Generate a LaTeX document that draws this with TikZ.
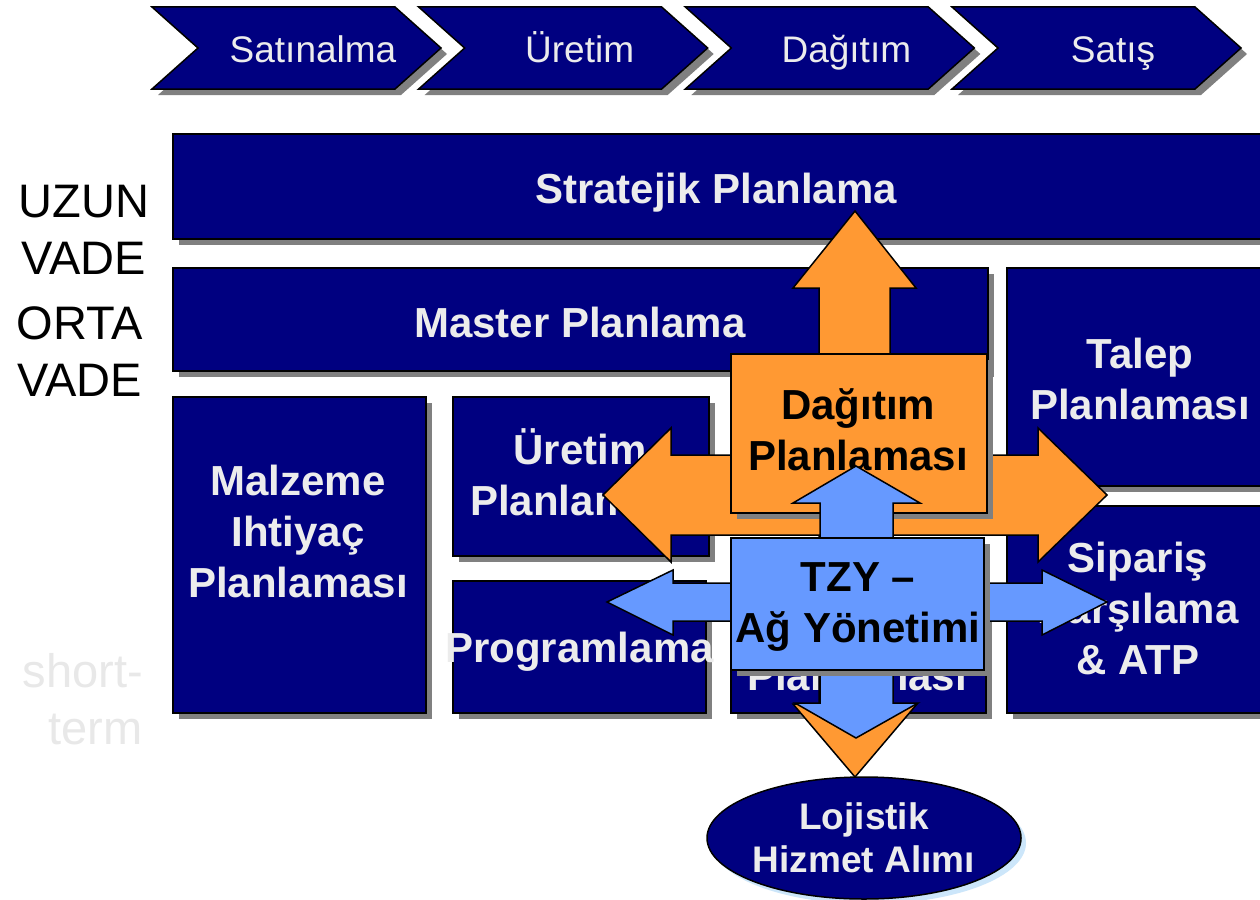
\documentclass[tikz,border=0pt]{standalone}
\usepackage{fontspec}
\setmainfont{Liberation Sans}
\usetikzlibrary{shapes.geometric}
\usetikzlibrary{shadows}
\definecolor{navy}{RGB}{0,0,128}
\definecolor{orng}{RGB}{255,153,51}
\definecolor{lblue}{RGB}{102,153,255}
\definecolor{txtgray}{RGB}{236,236,236}
\definecolor{shadowgray}{RGB}{128,128,128}
\definecolor{faintgray}{RGB}{232,232,232}
\definecolor{iceblue}{RGB}{204,230,250}

\tikzset{
  boxshadow/.style={drop shadow={shadow xshift=6pt, shadow yshift=-6pt, fill=shadowgray, opacity=1}},
  planbox/.style={draw=black, line width=1.5pt, fill=navy, inner sep=0pt, anchor=north west, boxshadow},
  chevron/.style={draw=black, line width=1.5pt, fill=navy, boxshadow},
  chevtext/.style={text=txtgray, font=\fontsize{37}{44}\selectfont, anchor=base, inner sep=0pt},
  boxtext/.style={text=txtgray, font=\bfseries\fontsize{42}{51}\selectfont, align=center, inner sep=0pt},
  darktext/.style={text=black, font=\bfseries\fontsize{42}{51}\selectfont, align=center, inner sep=0pt},
  vadetext/.style={text=black, font=\fontsize{47}{57}\selectfont, align=center, inner sep=0pt},
  blockarrow/.style={draw=black, line width=1.5pt, line join=miter}
}

\begin{document}
\begin{tikzpicture}[x=1pt, y=-1pt]
  \useasboundingbox (0,0) rectangle (1260,899);
  \clip (0,0) rectangle (1260,899);
  \fill[white] (0,0) rectangle (1260,899);

  % process chevrons
  \foreach \i/\lbl in {0/Satınalma, 1/Üretim, 2/Dağıtım, 3/Satış} {
    \pgfmathsetmacro{\L}{152+266.67*\i}
    \filldraw[chevron] (\L,7) -- ++(243,0) -- ++(46,41) -- ++(-46,41) -- ++(-243,0) -- ++(46,-41) -- cycle;
    \node[chevtext] (chev\i) at (\L+161,63) {\lbl};
  }

  % horizon labels
  \node[vadetext] (uzun) at (84,229.5) {UZUN\\VADE};
  \node[vadetext] (orta) at (80,352) {ORTA\\VADE};
  \node[vadetext, text=faintgray, align=right, anchor=east] (short) at (143,699.5) {short-\\term};

  % planning boxes
  \foreach \nm/\x/\y/\w/\h in {strat/172/133/1103/105, master/172/267/815/103,
      talep/1006/267/269/218, malz/172/396/253/316, uret/452/396/256/159,
      prog/452/580/253/132, planx/730/580/255/132, sip/1006/505/269/207} {
    \node[planbox, minimum width=\w pt, minimum height=\h pt] (\nm) at (\x,\y) {};
  }

  \node[boxtext, anchor=base] (strat-t) at (716,203) {Stratejik Planlama};
  \node[boxtext, anchor=base] (master-t) at (580,337) {Master Planlama};
  \node[boxtext] (talep-t) at (1140,379) {Talep\\Planlaması};
  \node[boxtext] (malz-t) at (298,531) {Malzeme\\Ihtiyaç\\Planlaması};
  \node[boxtext] (uret-t) at (580,472.5) {Üretim\\Planlaması};
  \node[boxtext, anchor=base] (prog-t) at (579.5,662) {Programlama};
  \node[boxtext, anchor=base] (planx-t) at (857,690) {Planlaması};
  \node[boxtext] (sip-t) at (1138,608.5) {Sipariş\\Karşılama\\\& ATP};

  % orange cross
  \filldraw[blockarrow, fill=orng] (855,211) -- (916,288) -- (890,288) -- (890,455) -- (1038,455)
    -- (1038,428) -- (1107,495) -- (1038,562) -- (1038,535) -- (890,535) -- (890,704) -- (917,704)
    -- (855,777) -- (793,704) -- (819,704) -- (819,535) -- (671,535) -- (671,562) -- (603,495)
    -- (671,428) -- (671,455) -- (819,455) -- (819,288) -- (793,288) -- cycle;
  \node[planbox, fill=orng, minimum width=256pt, minimum height=159pt] (dagit) at (730,353) {};
  \node[darktext] (dagit-t) at (858,430) {Dağıtım\\Planlaması};

  % blue cross
  \filldraw[blockarrow, fill=lblue] (856,466) -- (920,503) -- (893,503) -- (893,583) -- (1042,583)
    -- (1042,570) -- (1107,602) -- (1042,635) -- (1042,621) -- (893,621) -- (893,703) -- (918,703)
    -- (856,738) -- (795,703) -- (820,703) -- (820,621) -- (673,621) -- (673,635) -- (607,602)
    -- (673,570) -- (673,583) -- (820,583) -- (820,503) -- (793,503) -- cycle;
  \node[planbox, fill=lblue, minimum width=253pt, minimum height=132pt] (tzy) at (730,537) {};
  \node[darktext] (tzy-t) at (858,607) {TZY --\\Ağ Yönetimi};

  % logistics
  \node[ellipse, draw=black, line width=1.5pt, fill=navy, minimum width=312pt, minimum height=122pt,
    inner sep=0pt, text=txtgray, font=\bfseries\fontsize{37}{43}\selectfont, align=center,
    drop shadow={shadow xshift=5pt, shadow yshift=-5pt, fill=iceblue, opacity=1}] (loj) at (864,838) {Lojistik\\Hizmet Alımı};
\end{tikzpicture}
\end{document}
